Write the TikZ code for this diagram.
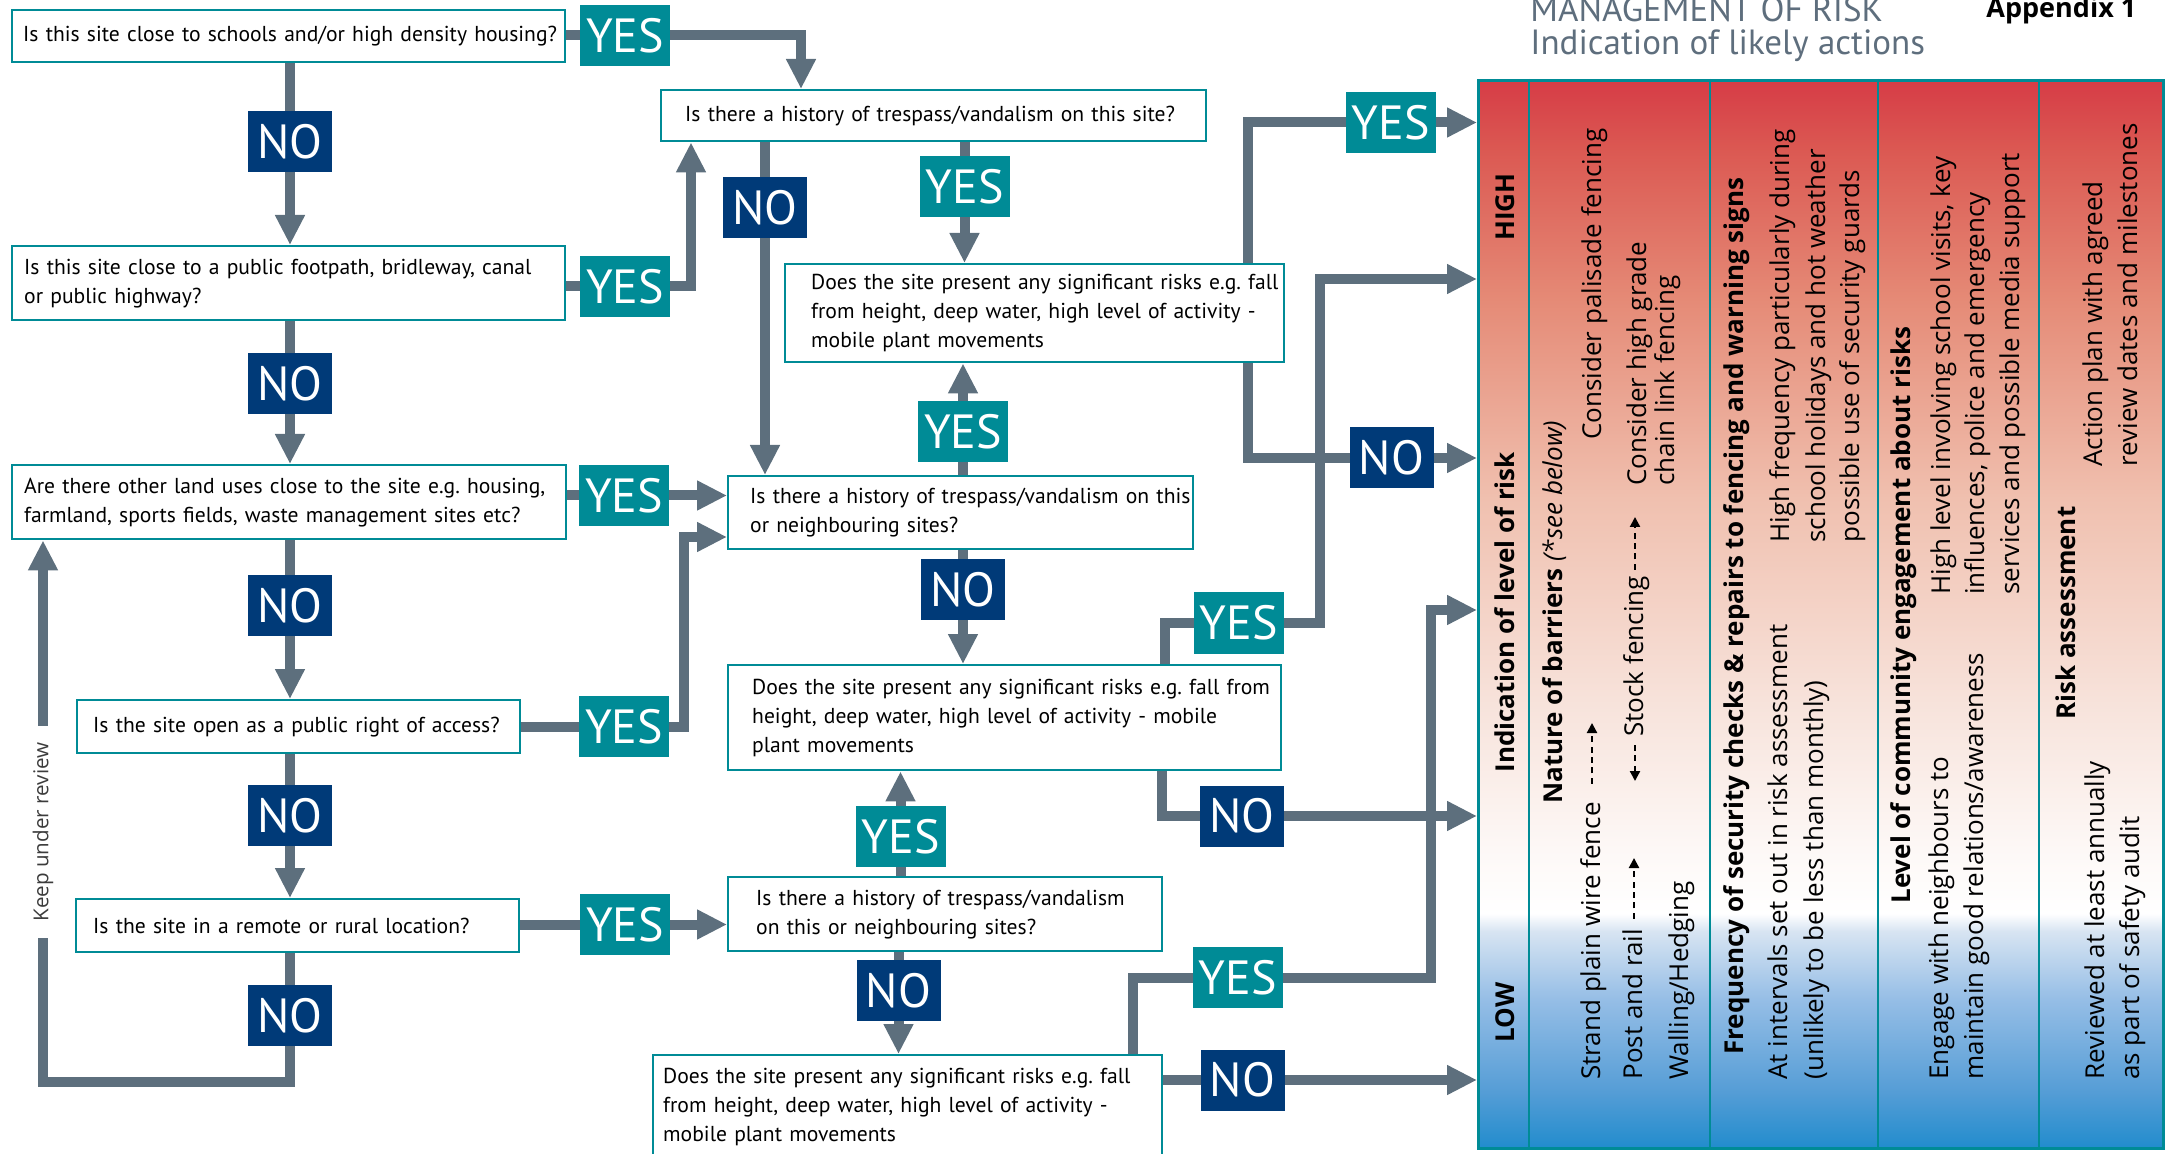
\documentclass[tikz,border=0pt]{standalone}
\usepackage{fontspec}
\setmainfont{PT Sans}
\newfontfamily\tabfont{Open Sans}
\usetikzlibrary{arrows.meta,calc}
\frenchspacing
\definecolor{tealc}{RGB}{0,139,150}
\definecolor{navyc}{RGB}{0,58,120}
\definecolor{linec}{RGB}{93,111,125}
\definecolor{titlec}{RGB}{94,110,125}
\definecolor{keepc}{RGB}{60,60,60}
\definecolor{sh0}{RGB}{33,140,205}
\definecolor{sh1}{RGB}{85,157,214}
\definecolor{sh2}{RGB}{150,190,230}
\definecolor{sh3}{RGB}{215,228,242}
\definecolor{sh4}{RGB}{255,255,255}
\definecolor{sh5}{RGB}{253,248,246}
\definecolor{sh6}{RGB}{247,226,218}
\definecolor{sh7}{RGB}{240,192,175}
\definecolor{sh8}{RGB}{229,138,118}
\definecolor{sh9}{RGB}{219,88,82}
\definecolor{sh10}{RGB}{214,60,70}
\pgfdeclareverticalshading{riskshade}{100bp}{color(0bp)=(sh0); color(25bp)=(sh0); color(27.67bp)=(sh1); color(32.02bp)=(sh2); color(35.16bp)=(sh3); color(36bp)=(sh4); color(39.04bp)=(sh5); color(46.07bp)=(sh6); color(55.43bp)=(sh7); color(64.79bp)=(sh8); color(71.82bp)=(sh9); color(75bp)=(sh10); color(100bp)=(sh10)}
\pgfdeclarelayer{bg}
\pgfsetlayers{bg,main}
\tikzset{
 qbox/.style={draw=tealc, line width=1.2pt, fill=white, inner sep=0pt, align=left, font=\fontsize{10.8}{14.5}\selectfont, text=black},
 yesl/.style={fill=tealc, text=white, minimum width=45pt, minimum height=30.5pt, inner sep=0pt, font=\fontsize{24}{24}\selectfont},
 nol/.style={fill=navyc, text=white, minimum width=42pt, minimum height=30.5pt, inner sep=0pt, font=\fontsize{24}{24}\selectfont},
 conn/.style={draw=linec, line width=5pt},
 arr/.style={conn, -{Triangle[length=15pt,width=14pt]}},
 tabtxt/.style={rotate=90, anchor=base west, inner sep=0pt, font=\tabfont\fontsize{13}{15}\selectfont},
 tabbold/.style={rotate=90, anchor=base west, inner sep=0pt, font=\tabfont\bfseries\fontsize{13}{15}\selectfont},
 dasharr/.style={draw=black, line width=1.1pt, dash pattern=on 3pt off 2.2pt, -{Triangle[length=5pt,width=5pt]}},
}
\newcommand\qbox[7]{%
  \pgfmathsetmacro\qw{(#4-#2)*0.5}%
  \pgfmathsetmacro\qh{(#5-#3)*0.5}%
  \pgfmathsetmacro\qp{#6*0.5}%
  \node[qbox,anchor=north west,minimum width=\qw pt,minimum height=\qh pt,text width=\qw pt] (#1) at (#2,#3) {\leftskip=\qp pt\relax #7\par};}
\begin{document}
\begin{tikzpicture}[x=0.5pt,y=-0.5pt]
\useasboundingbox (0,0) rectangle (2168,1154);
% question boxes
\qbox{A}{11}{9}{564}{61}{11}{Is this site close to schools and/or high density housing?}
\qbox{B}{660}{89}{1205}{140}{24}{Is there a history of trespass/vandalism on this site?}
\qbox{C}{11}{245}{564}{319}{12}{Is this site close to a public footpath, bridleway, canal\\or public highway?}
\qbox{E}{784}{263}{1283}{361}{26}{Does the site present any significant risks e.g. fall\\from height, deep water, high level of activity -\\mobile plant movements}
\qbox{I}{11}{464}{565}{538}{12}{Are there other land uses close to the site e.g. housing,\\farmland, sports fields, waste management sites etc?}
\qbox{D}{727}{475}{1192}{548}{22}{Is there a history of trespass/vandalism on this\\or neighbouring sites?}
\qbox{F}{727}{664}{1280}{769}{24}{Does the site present any significant risks e.g. fall from\\height, deep water, high level of activity - mobile\\plant movements}
\qbox{J}{76}{699}{519}{752}{16}{Is the site open as a public right of access?}
\qbox{G}{727}{876}{1161}{950}{28}{Is there a history of trespass/vandalism\\on this or neighbouring sites?}
\qbox{K}{75}{898}{518}{951}{17}{Is the site in a remote or rural location?}
\qbox{H}{652}{1054}{1161}{1158}{10}{Does the site present any significant risks e.g. fall\\from height, deep water, high level of activity -\\mobile plant movements}
% YES / NO labels
\node[yesl] (Y1) at (625,35.5) {YES};
\node[yesl] (Y2) at (625,286.5) {YES};
\node[yesl] (Y3) at (964.5,186.5) {YES};
\node[yesl] (Y4) at (1390.5,122.5) {YES};
\node[yesl] (Y9) at (624,495.5) {YES};
\node[yesl] (Y6) at (963,431.5) {YES};
\node[yesl] (Y5) at (1238.5,623) {YES};
\node[yesl] (Y10) at (624,726.5) {YES};
\node[yesl] (Y8) at (900.5,836.5) {YES};
\node[yesl] (Y11) at (625,924.5) {YES};
\node[yesl] (Y7) at (1237.5,977.5) {YES};
\node[nol] (N1) at (290,141.5) {NO};
\node[nol] (N3) at (765,207.5) {NO};
\node[nol] (N2) at (290,383.5) {NO};
\node[nol] (N4) at (1391.5,458) {NO};
\node[nol] (N9) at (290,605.5) {NO};
\node[nol] (N5) at (963,589.5) {NO};
\node[nol] (N10) at (290,815.5) {NO};
\node[nol] (N6) at (1242,816) {NO};
\node[nol] (N7) at (898.5,990.5) {NO};
\node[nol] (N11) at (290,1015.5) {NO};
\node[nol] (N8) at (1242.5,1080) {NO};
% keep under review
\node[rotate=90, minimum width=106pt, inner sep=0pt, text=keepc, font=\tabfont\fontsize{10.3}{12}\selectfont] (keep) at (43,832) {Keep under review};
% risk table
\node[draw=tealc, line width=1.6pt, shade, shading=riskshade, minimum width=342.5pt, minimum height=534pt, inner sep=0pt, anchor=north west] (risk) at (1477,79) {};
\foreach \cx in {1529,1710,1878,2039} \draw[draw=tealc, line width=1.2pt] (\cx,79) -- (\cx,1147);
% bend points
\coordinate (bx1) at (801,0);
\coordinate (bx2) at (691,0);
\coordinate (bx3) at (1248,0);
\coordinate (bx4) at (1165,0);
\coordinate (bx5) at (1162,0);
\coordinate (bx6) at (1133,0);
\coordinate (hb1) at (1320,279);
\coordinate (hb2) at (684,537);
\coordinate (hb3) at (1431,610);
\coordinate (lp) at (43,1082);
\begin{pgfonlayer}{bg}
\draw[arr] (A.east |- Y1) -- (Y1.center) -| (bx1 |- B.north);
\draw[arr] (A.south -| N1) -- (C.north -| N1);
\draw[arr] (C.east |- Y2) -- (Y2.center) -| (bx2 |- B.south);
\draw[arr] (B.south -| N3) -- (D.north -| N3);
\draw[arr] (B.south -| Y3) -- (E.north -| Y3);
\draw[arr] (bx3 |- E.north) |- (Y4.center) -- (Y4 -| risk.west);
\draw[arr] (bx3 |- E.south) |- (N4.center) -- (N4 -| risk.west);
\draw[arr] (C.south -| N2) -- (I.north -| N2);
\draw[arr] (I.east |- Y9) -- (Y9.center) -- (Y9 -| D.west);
\draw[arr] (D.north -| Y6) -- (E.south -| Y6);
\draw[arr] (D.south -| N5) -- (F.north -| N5);
\draw[arr] (bx4 |- F.north) |- (Y5.center) -| (hb1) -- (hb1 -| risk.west);
\draw[arr] (bx5 |- F.south) |- (N6.center) -- (N6 -| risk.west);
\draw[arr] (I.south -| N9) -- (J.north -| N9);
\draw[arr] (J.east |- Y10) -- (Y10.center) -| (hb2) -- (hb2 -| D.west);
\draw[arr] (G.north -| Y8) -- (F.south -| Y8);
\draw[arr] (G.south -| N7) -- (H.north -| N7);
\draw[arr] (bx6 |- H.north) |- (Y7.center) -| (hb3) -- (hb3 -| risk.west);
\draw[arr] (H.east |- N8) -- (N8.center) -- (N8 -| risk.west);
\draw[arr] (J.south -| N10) -- (K.north -| N10);
\draw[arr] (K.east |- Y11) -- (Y11.center) -- (Y11 -| G.west);
\draw[conn] (K.south -| N11) |- (lp) -- (keep.west);
\draw[arr] (keep.east) -- (I.south -| keep);
\end{pgfonlayer}
% titles
\node[anchor=base west, inner sep=0pt, text=titlec, font=\fontsize{17.5}{20}\selectfont] (t1) at (1530,22) {MANAGEMENT OF RISK};
\node[anchor=base west, inner sep=0pt, text=titlec, font=\fontsize{17.5}{20}\selectfont] (t2) at (1530,55) {Indication of likely actions};
\node[anchor=base west, inner sep=0pt, font=\tabfont\bfseries\fontsize{13.5}{16}\selectfont] (app) at (1986,18) {Appendix 1};
% table column 1
\node[tabbold] (low) at (1514,1043) {LOW};
\node[tabbold] (ind) at (1514,773) {Indication of level of risk};
\node[tabbold] (high) at (1514,241) {HIGH};
% column 2
\node[tabtxt] (nat) at (1562,804) {\textbf{Nature of barriers} \textit{(*see below)}};
\node[tabtxt] (strand) at (1600,1080) {Strand plain wire fence};
\node[tabtxt] (pal) at (1601,440) {Consider palisade fencing};
\node[tabtxt] (post) at (1642,1080) {Post and rail};
\node[tabtxt] (stock) at (1643,737) {Stock fencing};
\node[tabtxt] (chg) at (1646,486) {Consider high grade};
\node[tabtxt] (chl) at (1674,486) {chain link fencing};
\node[tabtxt] (wall) at (1688,1080) {Walling/Hedging};
\draw[dasharr] ($(strand.base east)+(-8,-18)$) -- (1592,723);
\draw[dasharr] ($(post.base east)+(-8,-10)$) -- (1634,858);
\draw[dasharr] ($(stock.base west)+(-8,8)$) -- (1635,781);
\draw[dasharr] ($(stock.base east)+(-8,-6)$) -- (1635,517);
% column 3
\node[tabbold] (freq) at (1743,1055) {Frequency of security checks \& repairs to fencing and warning signs};
\node[tabtxt] (f1) at (1787,1080) {At intervals set out in risk assessment};
\node[tabtxt] (f2) at (1823,1080) {(unlikely to be less than monthly)};
\node[tabtxt] (f3) at (1789,543) {High frequency particularly during};
\node[tabtxt] (f4) at (1825,543) {school holidays and hot weather};
\node[tabtxt] (f5) at (1859,543) {possible use of security guards};
% column 4
\node[tabbold] (lev) at (1910,904) {Level of community engagement about risks};
\node[tabtxt] (l1) at (1948,1080) {Engage with neighbours to};
\node[tabtxt] (l2) at (1983,1080) {maintain good relations/awareness};
\node[tabtxt] (l3) at (1950,595) {High level involving school visits, key};
\node[tabtxt] (l4) at (1984,595) {influences, police and emergency};
\node[tabtxt] (l5) at (2019,595) {services and possible media support};
% column 5
\node[tabbold] (ra) at (2075,720) {Risk assessment};
\node[tabtxt] (r1) at (2104,1080) {Reviewed at least annually};
\node[tabtxt] (r2) at (2139,1080) {as part of safety audit};
\node[tabtxt] (r3) at (2102,467) {Action plan with agreed};
\node[tabtxt] (r4) at (2137,467) {review dates and milestones};
\end{tikzpicture}
\end{document}
